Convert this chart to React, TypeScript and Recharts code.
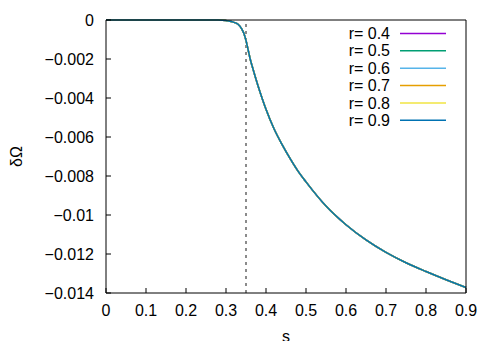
import {
  LineChart,
  Line,
  XAxis,
  YAxis,
  ReferenceLine,
  Legend,
} from 'recharts';

const sValues = [
  0, 0.05, 0.1, 0.15, 0.2, 0.25, 0.28, 0.3, 0.31, 0.32, 0.33, 0.34, 0.345,
  0.35, 0.355, 0.36, 0.37, 0.38, 0.39, 0.4, 0.42, 0.44, 0.46, 0.48, 0.5, 0.55,
  0.6, 0.65, 0.7, 0.75, 0.8, 0.85, 0.9,
];

// all six r curves lie on top of each other in the plot
const deltaOmega = [
  0, 0, 0, 0, 0, 0, -0.000005, -0.00003, -0.00006, -0.00012, -0.00022,
  -0.00048, -0.0007, -0.00105, -0.0015, -0.00196, -0.00269, -0.00337,
  -0.004, -0.00458, -0.00558, -0.00638, -0.0071, -0.00775, -0.0083, -0.00954,
  -0.0105, -0.01128, -0.01192, -0.01245, -0.0129, -0.01332, -0.01372,
];

const rValues = [0.4, 0.5, 0.6, 0.7, 0.8, 0.9];
const rColors = ['#9400d3', '#009e73', '#56b4e9', '#e69f00', '#f0e442', '#0072b2'];

const xTicks = [0, 0.1, 0.2, 0.3, 0.4, 0.5, 0.6, 0.7, 0.8, 0.9];
const yTicks = [0, -0.002, -0.004, -0.006, -0.008, -0.01, -0.012, -0.014];
const sCritical = 0.35;

const FONT = '"Liberation Sans", Arial, sans-serif';

const chartData = sValues.map((s, i) => {
  const row: Record<string, number> = {s};
  rValues.forEach((_, k) => {
    row[`r${k}`] = deltaOmega[i];
  });
  return row;
});

// gnuplot prints a real minus sign
const fmt = (v: number) => String(v).replace('-', '\u2212');

const BottomTick = (props: any) => (
  <text
    x={props.x}
    y={props.y}
    dy="0.71em"
    textAnchor="middle"
    fontSize={16}
    fontFamily={FONT}
    fill="#000"
  >
    {fmt(props.payload.value)}
  </text>
);

const LeftTick = (props: any) => (
  <text
    x={props.x}
    y={props.y}
    dy="0.35em"
    textAnchor="end"
    fontSize={16}
    fontFamily={FONT}
    fill="#000"
  >
    {fmt(props.payload.value)}
  </text>
);

const renderLegend = (props: any) => {
  const payload = props.payload || [];
  return (
    <svg width={498} height={140} style={{display: 'block'}}>
      {payload.map((p: any, i: number) => {
        const y = 33.5 + i * 17.35;
        return (
          <g key={p.value}>
            <text
              x={390}
              y={y}
              dy="0.35em"
              textAnchor="end"
              fontSize={16}
              fontFamily={FONT}
              fill="#000"
            >
              {p.value}
            </text>
            <line x1={400} x2={446} y1={y} y2={y} stroke={p.color} strokeWidth={1.5} />
          </g>
        );
      })}
    </svg>
  );
};

export default function App() {
  return (
    <div style={{margin: -8}}>
      <LineChart
        width={498}
        height={349}
        data={chartData}
        margin={{top: 19, right: 31, left: 0, bottom: 0}}
        style={{fontFamily: FONT}}
      >
        <XAxis
          xAxisId="bottom"
          dataKey="s"
          type="number"
          domain={[0, 0.9]}
          ticks={xTicks}
          interval={0}
          tick={<BottomTick />}
          tickSize={-5}
          tickMargin={17}
          height={56}
          stroke="#000"
          label={{
            content: ({viewBox}: any) => (
              <text
                x={viewBox.x + viewBox.width / 2}
                y={342}
                textAnchor="middle"
                fontSize={16}
                fontFamily={FONT}
                fill="#000"
              >
                s
              </text>
            ),
          }}
        />
        <XAxis
          xAxisId="top"
          dataKey="s"
          type="number"
          orientation="top"
          domain={[0, 0.9]}
          ticks={xTicks}
          interval={0}
          tick={false}
          tickSize={-5}
          height={1}
          stroke="#000"
        />
        <YAxis
          yAxisId="left"
          type="number"
          domain={[-0.014, 0]}
          ticks={yTicks}
          interval={0}
          tick={<LeftTick />}
          tickSize={-5}
          tickMargin={17}
          width={106}
          stroke="#000"
          label={{
            content: ({viewBox}: any) => {
              const cy = viewBox.y + viewBox.height / 2;
              return (
                <text
                  x={16}
                  y={cy}
                  dy="0.35em"
                  textAnchor="middle"
                  fontSize={16}
                  fontFamily={FONT}
                  fill="#000"
                  transform={`rotate(-90 16 ${cy})`}
                >
                  δΩ
                </text>
              );
            },
          }}
        />
        <YAxis
          yAxisId="right"
          orientation="right"
          type="number"
          domain={[-0.014, 0]}
          ticks={yTicks}
          interval={0}
          tick={false}
          tickSize={-5}
          width={1}
          stroke="#000"
        />
        <ReferenceLine
          x={sCritical}
          xAxisId="bottom"
          yAxisId="left"
          stroke="#666"
          strokeWidth={1.5}
          strokeDasharray="3 4"
        />
        <Legend
          layout="vertical"
          align="center"
          verticalAlign="middle"
          content={renderLegend}
          wrapperStyle={{left: 0, top: 0, width: 498, height: 140, lineHeight: 0}}
        />
        {rValues.map((r, k) => (
          <Line
            key={r}
            xAxisId="bottom"
            yAxisId="left"
            type="monotone"
            dataKey={`r${k}`}
            name={`r= ${r}`}
            stroke={rColors[k]}
            strokeWidth={1.5}
            dot={false}
            isAnimationActive={false}
          />
        ))}
      </LineChart>
    </div>
  );
}
